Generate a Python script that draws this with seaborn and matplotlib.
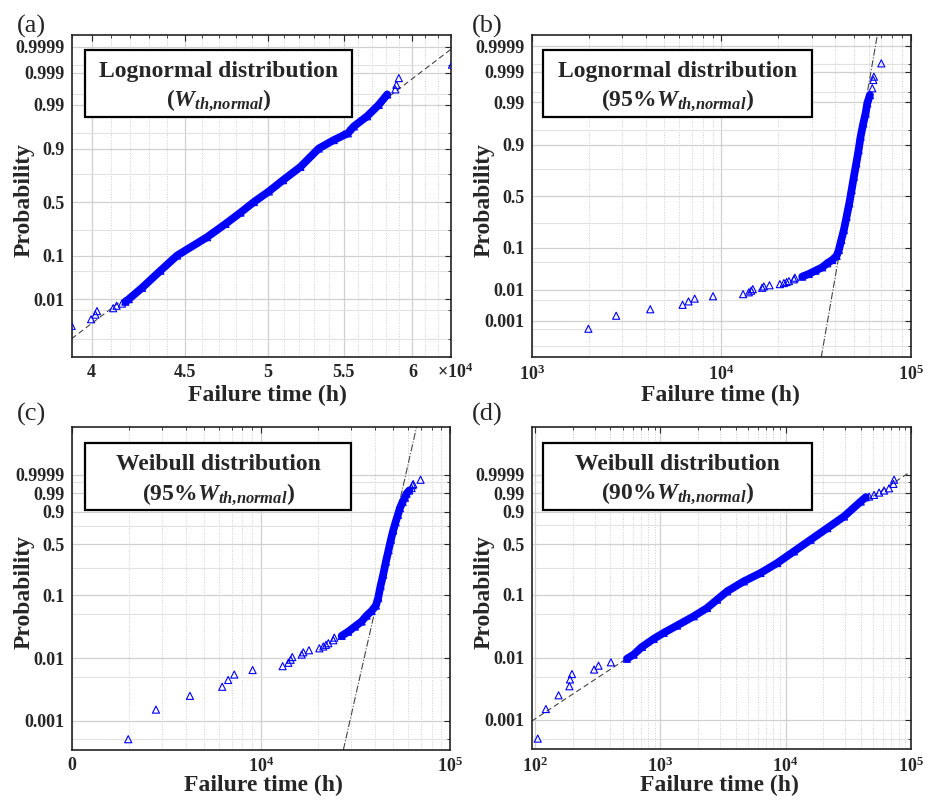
import numpy as np
import pandas as pd
import matplotlib
matplotlib.use("Agg")
import matplotlib.pyplot as plt
import matplotlib.ticker as mticker
from matplotlib.patches import Rectangle
from statistics import NormalDist
import seaborn as sns

# ---------------- values ----------------
# (a) lognormal plot, W_th,normal
a_low_t = [39000, 39970, 40190, 40270, 41100, 41280, 41560]
a_low_p = [0.0015, 0.0025, 0.0035, 0.0045, 0.0055, 0.0065, 0.0075]
a_band_t = [41740, 41920, 42630, 43630, 44560, 46280, 47370, 48280, 49100, 50040,
            50950, 52080, 53300, 54320, 55300, 55720, 56660, 57500, 58120]
a_band_p = [0.0085, 0.01, 0.02, 0.05, 0.1, 0.2, 0.3, 0.4, 0.5, 0.6,
            0.7, 0.8, 0.9, 0.931, 0.95, 0.965, 0.98, 0.99, 0.995]
a_high_t = [58720, 58800, 58980, 63080]
a_high_p = [0.9965, 0.9975, 0.9985, 0.9995]
a_fit_t = [41640, 57450]
a_fit_p = [0.01, 0.99]

# (b) lognormal plot and (c) Weibull plot share the same 95% W_th,normal sample
s95_low_t = [1991, 2790, 4220, 6250, 6720, 7240, 9050, 13040, 13980, 14380,
             14670, 16440, 16770, 17970, 20390, 21400, 22110, 22750, 24170, 24460]
s95_low_p = [0.0005, 0.0015, 0.0025, 0.0035, 0.0045, 0.0055, 0.0065, 0.0075, 0.0085, 0.0095,
             0.0105, 0.0115, 0.0125, 0.0135, 0.0145, 0.0155, 0.0165, 0.0175, 0.0195, 0.0215]
s95_band_t = [26740, 28960, 31430, 34100, 36240, 38510, 40590, 41740, 42980, 44360,
              45840, 47380, 48730, 50100, 51580, 53060, 54360, 56170, 57760, 58960, 60860]
s95_band_p = [0.0229, 0.0267, 0.0322, 0.0387, 0.0479, 0.0566, 0.0688, 0.0908, 0.1383, 0.2007,
              0.3054, 0.4298, 0.5608, 0.6855, 0.7927, 0.874, 0.930, 0.9647, 0.9801, 0.9894, 0.99397]
s95_high_t = [62660, 63430, 63900, 69920]
s95_high_p = [0.99628, 0.99803, 0.99849, 0.99951]
b_fit_t = [36690, 61170]
b_fit_p = [0.00135, 0.99865]
c_fit_t = [31680, 57420]
c_fit_p = [0.002476, 0.999382]

# (d) Weibull plot, 90% W_th,normal
d_low_t = [105, 122, 154, 188, 190, 197, 296, 321, 403]
d_low_p = [0.0005, 0.0015, 0.0025, 0.0035, 0.0045, 0.0055, 0.0065, 0.0075, 0.0085]
d_band_t = [541, 612, 713, 884, 1063, 1359, 1848, 2362, 2840, 3415,
            4642, 6310, 8577, 11660, 15850, 21540, 29290, 39810, 43650]
d_band_p = [0.0097, 0.0113, 0.0150, 0.0202, 0.0252, 0.0329, 0.0462, 0.0623, 0.0840, 0.1126,
            0.1591, 0.2104, 0.2899, 0.4101, 0.5569, 0.7149, 0.8555, 0.9658, 0.981]
d_high_t = [46420, 50890, 55810, 61190, 67080, 72660, 73560]
d_high_p = [0.9828, 0.9867, 0.9910, 0.9938, 0.9960, 0.9985, 0.9995]
d_fit_t = [1000, 10000]
d_fit_p = [0.0221, 0.381]

# axis ticks
logn_ticks = [0.01, 0.1, 0.5, 0.9, 0.99, 0.999, 0.9999]
logn_ticks_b = [0.001, 0.01, 0.1, 0.5, 0.9, 0.99, 0.999, 0.9999]
logn_minor = [0.0001, 0.0005, 0.005, 0.05, 0.25, 0.75, 0.95, 0.995, 0.9995]
wbl_ticks = [0.001, 0.01, 0.1, 0.5, 0.9, 0.99, 0.9999]
wbl_minor = [0.0005, 0.005, 0.05, 0.25, 0.75, 0.999]
a_xticks = [40000, 45000, 50000, 55000, 60000]
a_xlabels = ["4", "4.5", "5", "5.5", "6"]

BLUE = "#0000ff"

sns.set_style("white")
plt.rcParams["font.family"] = ["Liberation Serif", "DejaVu Serif"]
plt.rcParams["mathtext.fontset"] = "custom"
plt.rcParams["mathtext.rm"] = "Liberation Serif:bold"
plt.rcParams["mathtext.bf"] = "Liberation Serif:bold"
plt.rcParams["mathtext.it"] = "Liberation Serif:italic:bold"

_nd = NormalDist()


def probit(p):
    return np.array([_nd.inv_cdf(v) for v in p])


def weibit(p):
    p = np.asarray(p, float)
    return np.log(-np.log1p(-p))


def draw(ax, low_t, low_p, band_t, band_p, high_t, high_p, fit_t, fit_p, tf, fit_ls):
    band = pd.DataFrame({"t": band_t, "y": tf(band_p)})
    pts = pd.DataFrame({"t": low_t + band_t + high_t,
                        "y": tf(low_p + band_p + high_p)})
    sns.lineplot(data=band, x="t", y="y", color=BLUE, lw=5.6, sort=False,
                 estimator=None, ax=ax, zorder=3)
    sns.scatterplot(data=pts, x="t", y="y", marker="^", s=26, color=BLUE, ax=ax, zorder=4)
    sc = ax.collections[-1]
    sc.set_facecolor("none")
    sc.set_edgecolor(BLUE)
    sc.set_linewidth(0.8)
    fy = tf(fit_p)
    ax.axline((fit_t[0], fy[0]), (fit_t[1], fy[1]), color="#444444", lw=0.8,
              ls=fit_ls, zorder=2)


def style(ax, tf, yticks, ylabels, yminor, ylim, xlab_pos):
    ax.set_xscale("log")
    ax.set_ylim(*ylim)
    ax.set_yticks(tf(yticks))
    ax.set_yticklabels(ylabels)
    ax.set_yticks(tf(yminor), minor=True)
    ax.xaxis.set_minor_formatter(mticker.NullFormatter())
    ax.set_axisbelow(True)
    ax.grid(which="major", color="#d0d0d0", lw=0.9, ls="-")
    ax.grid(which="minor", axis="y", color="#e2e2e2", lw=0.8, ls="-")
    ax.grid(which="minor", axis="x", color="#cccccc", lw=0.7, ls=":")
    ax.tick_params(which="major", direction="in", length=4, width=0.8,
                   top=True, right=True, labelsize=13, pad=5)
    ax.tick_params(which="minor", direction="in", length=2, width=0.6,
                   top=True, right=True)
    for lab in ax.get_xticklabels() + ax.get_yticklabels():
        lab.set_fontweight("bold")
    for sp in ax.spines.values():
        sp.set_color("#222222")
        sp.set_linewidth(1.2)
    ax.set_ylabel("Probability", fontsize=17, fontweight="bold")
    ax.set_xlabel("Failure time (h)", fontsize=17, fontweight="bold")
    ax.yaxis.set_label_coords(-0.097, 0.488)
    ax.xaxis.set_label_coords(xlab_pos[0], xlab_pos[1])


def textbox(ax, x0, x1, y0, y1, line1, line2, b1, b2):
    ax.add_patch(Rectangle((x0, y0), x1 - x0, y1 - y0, transform=ax.transAxes,
                           fc="white", ec="black", lw=1.6, zorder=6))
    cx = (x0 + x1) / 2
    ax.text(cx, b1, line1, transform=ax.transAxes, ha="center", va="baseline",
            fontsize=17, fontweight="bold", zorder=7)
    ax.text(cx, b2, line2, transform=ax.transAxes, ha="center", va="baseline",
            fontsize=17, fontweight="bold", zorder=7)


fig = plt.figure(figsize=(9.27, 8.01), dpi=100)
ax_a = fig.add_axes([0.0773, 0.5539, 0.4092, 0.4024])
ax_b = fig.add_axes([0.5736, 0.5539, 0.4089, 0.4024])
ax_c = fig.add_axes([0.0773, 0.0637, 0.4081, 0.4036])
ax_d = fig.add_axes([0.5736, 0.0645, 0.4089, 0.4028])

sub_a = r"($\mathit{W}_{\mathit{th{,}normal}}$)"
sub_95 = r"(95%$\mathit{W}_{\mathit{th{,}normal}}$)"
sub_90 = r"(90%$\mathit{W}_{\mathit{th{,}normal}}$)"

# (a)
draw(ax_a, a_low_t, a_low_p, a_band_t, a_band_p, a_high_t, a_high_p,
     a_fit_t, a_fit_p, probit, (0, (5, 3)))
style(ax_a, probit, logn_ticks, [str(v) for v in logn_ticks], logn_minor,
      (-3, 4), (0.516, -0.085))
ax_a.set_xlim(39000, 63000)
ax_a.set_xticks(a_xticks)
ax_a.set_xticklabels(a_xlabels, fontweight="bold")
ax_a.xaxis.set_minor_locator(mticker.FixedLocator(np.arange(39000, 63001, 1000)))
ax_a.xaxis.set_minor_formatter(mticker.NullFormatter())
textbox(ax_a, 0.035, 0.739, 0.7456, 0.9535, "Lognormal distribution", sub_a, 0.871, 0.780)

# (b)
draw(ax_b, s95_low_t, s95_low_p, s95_band_t, s95_band_p, s95_high_t, s95_high_p,
     b_fit_t, b_fit_p, probit, "-.")
style(ax_b, probit, logn_ticks_b, [str(v) for v in logn_ticks_b], logn_minor,
      (-4, 4), (0.499, -0.085))
ax_b.set_xlim(1e3, 1e5)
ax_b.set_xticks([1e3, 1e4, 1e5])
ax_b.set_xticklabels([r"$\mathbf{10^{3}}$", r"$\mathbf{10^{4}}$", r"$\mathbf{10^{5}}$"])
ax_b.xaxis.set_minor_locator(mticker.LogLocator(base=10, subs=range(2, 10)))
ax_b.xaxis.set_minor_formatter(mticker.NullFormatter())
textbox(ax_b, 0.0306, 0.740, 0.7456, 0.9535, "Lognormal distribution", sub_95, 0.871, 0.780)

# (c)
draw(ax_c, s95_low_t, s95_low_p, s95_band_t, s95_band_p, s95_high_t, s95_high_p,
     c_fit_t, c_fit_p, weibit, "-.")
style(ax_c, weibit, wbl_ticks, [str(v) for v in wbl_ticks], wbl_minor,
      (-8, 4), (0.506, -0.078))
ax_c.set_xlim(1e3, 1e5)
ax_c.set_xticks([1e3, 1e4, 1e5])
ax_c.set_xticklabels(["0", r"$\mathbf{10^{4}}$", r"$\mathbf{10^{5}}$"], fontweight="bold")
ax_c.xaxis.set_minor_locator(mticker.LogLocator(base=10, subs=range(2, 10)))
ax_c.xaxis.set_minor_formatter(mticker.NullFormatter())
textbox(ax_c, 0.035, 0.739, 0.7423, 0.9505, "Weibull distribution", sub_95, 0.866, 0.776)

# (d)
draw(ax_d, d_low_t, d_low_p, d_band_t, d_band_p, d_high_t, d_high_p,
     d_fit_t, d_fit_p, weibit, (0, (5, 3)))
style(ax_d, weibit, wbl_ticks, [str(v) for v in wbl_ticks], wbl_minor,
      (-8, 4), (0.495, -0.078))
ax_d.set_xlim(94, 1e5)
ax_d.set_xticks([1e2, 1e3, 1e4, 1e5])
ax_d.set_xticklabels([r"$\mathbf{10^{2}}$", r"$\mathbf{10^{3}}$",
                      r"$\mathbf{10^{4}}$", r"$\mathbf{10^{5}}$"])
ax_d.xaxis.set_minor_locator(mticker.LogLocator(base=10, subs=range(2, 10)))
ax_d.xaxis.set_minor_formatter(mticker.NullFormatter())
textbox(ax_d, 0.0306, 0.740, 0.7423, 0.9505, "Weibull distribution", sub_90, 0.866, 0.776)

fig.text(437 / 927, 1 - 378 / 801, r"×$\mathbf{10^{4}}$", fontsize=13,
         fontweight="bold", ha="left", va="baseline")

for lab, (x, y) in zip(["(a)", "(b)", "(c)", "(d)"],
                       [(17, 26), (472, 26), (17, 414), (472, 414)]):
    fig.text(x / 927, 1 - y / 801, lab, fontsize=19, ha="left", va="center")

plt.savefig("out.png", dpi=100)
